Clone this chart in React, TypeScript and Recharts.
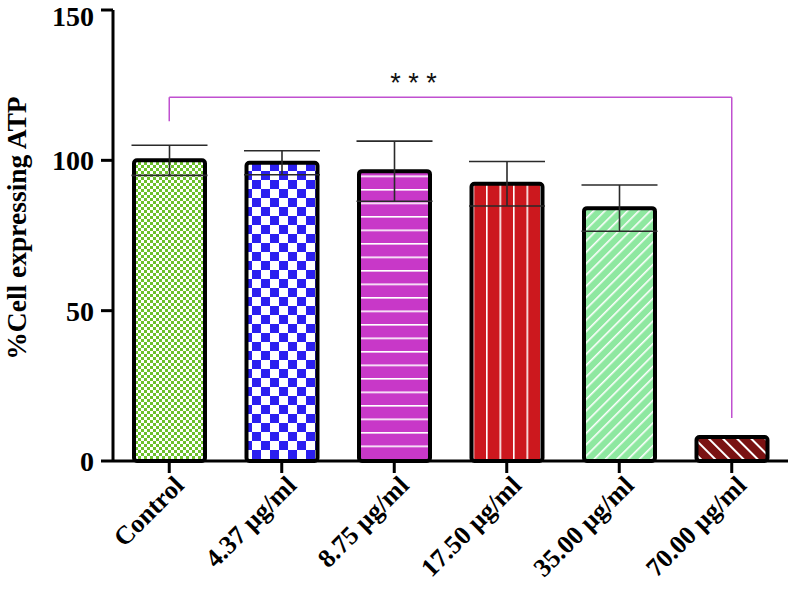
import { Bar, BarChart, Cell, ErrorBar, ReferenceLine, XAxis, YAxis } from 'recharts';

const groups = ['Control', '4.37 µg/ml', '8.75 µg/ml', '17.50 µg/ml', '35.00 µg/ml', '70.00 µg/ml'];
const meanAtp = [100, 99.2, 96.4, 92.2, 84.1, 8];
const sdAtp = [5, 4, 10, 7.4, 7.7, 0];
const yTicks = [0, 50, 100, 150];
const fills = ['url(#pCtrl)', 'url(#p437)', 'url(#p875)', 'url(#p1750)', 'url(#p3500)', 'url(#p7000)'];

const data = groups.map((name, i) => ({ name, atp: meanAtp[i], sd: sdAtp[i] }));

const serif = '"Liberation Serif", "Times New Roman", serif';

function XTick({ x, y, payload }: any) {
  return (
    <g transform={`translate(${x + 16},${y + 12})`}>
      <text
        x={0}
        y={0}
        textAnchor="end"
        transform="rotate(-45)"
        fontFamily={serif}
        fontWeight="bold"
        fontSize={26}
        fill="#000"
      >
        {payload.value}
      </text>
    </g>
  );
}

function YLabel() {
  return (
    <text
      x={26}
      y={228}
      transform="rotate(-90 26 228)"
      textAnchor="middle"
      fontFamily={serif}
      fontWeight="bold"
      fontSize={27.5}
      fill="#000"
    >
      %Cell expressing ATP
    </text>
  );
}

export default function App() {
  return (
    <div style={{ position: 'absolute', left: 0, top: 0, background: '#fff' }}>
      <BarChart width={792} height={594} data={data} margin={{ top: 10, right: 4, left: 0, bottom: 0 }}>
        <defs>
          <pattern id="pCtrl" width={6} height={6} patternUnits="userSpaceOnUse">
            <rect width={6} height={6} fill="#fff" />
            <rect width={3} height={3} fill="#6cc02c" />
            <rect x={3} y={3} width={3} height={3} fill="#6cc02c" />
          </pattern>
          <pattern id="p437" width={18} height={18} patternUnits="userSpaceOnUse">
            <rect width={18} height={18} fill="#fff" />
            <rect width={9} height={9} fill="#2b1ff0" />
            <rect x={9} y={9} width={9} height={9} fill="#2b1ff0" />
          </pattern>
          <pattern id="p875" width={14} height={13.5} patternUnits="userSpaceOnUse">
            <rect width={14} height={13.5} fill="#c838c8" />
            <rect y={0} width={14} height={1.6} fill="#fff" />
          </pattern>
          <pattern id="p1750" width={13.5} height={14} patternUnits="userSpaceOnUse">
            <rect width={13.5} height={14} fill="#cc181e" />
            <rect x={0} width={1.6} height={14} fill="#fff" />
          </pattern>
          <pattern id="p3500" width={8} height={8} patternUnits="userSpaceOnUse" patternTransform="rotate(45)">
            <rect width={8} height={8} fill="#8ee8a0" />
            <rect width={1.6} height={8} fill="#fff" />
          </pattern>
          <pattern id="p7000" width={10} height={10} patternUnits="userSpaceOnUse" patternTransform="rotate(-45)">
            <rect width={10} height={10} fill="#7a1212" />
            <rect width={2} height={10} fill="#fff" />
          </pattern>
        </defs>
        <XAxis
          dataKey="name"
          interval={0}
          height={133}
          axisLine={{ stroke: '#000', strokeWidth: 3 }}
          tickLine={{ stroke: '#000', strokeWidth: 3 }}
          tickSize={12}
          tick={<XTick />}
        />
        <YAxis
          domain={[0, 150]}
          ticks={yTicks}
          width={113}
          axisLine={{ stroke: '#000', strokeWidth: 3 }}
          tickLine={{ stroke: '#000', strokeWidth: 3 }}
          tickSize={12}
          tickMargin={7}
          tick={{ fill: '#000', fontFamily: serif, fontWeight: 'bold', fontSize: 28 }}
          label={{ content: <YLabel /> }}
        />
        <Bar dataKey="atp" barSize={71} stroke="#000" strokeWidth={4} radius={3} isAnimationActive={false}>
          {data.map((d, i) => (
            <Cell key={d.name} fill={fills[i]} />
          ))}
          <ErrorBar dataKey="sd" width={38} stroke="#2a2a2a" strokeWidth={1.6} direction="y" />
        </Bar>
        <ReferenceLine
          segment={[
            { x: groups[0], y: 121 },
            { x: groups[5], y: 121 },
          ]}
          stroke="#c050d0"
          strokeWidth={1.5}
          label={{
            value: '* * *',
            position: 'top',
            dx: -37,
            offset: 5,
            fill: '#111',
            fontSize: 27,
            fontFamily: '"Liberation Sans", Arial, sans-serif',
          }}
        />
        <ReferenceLine
          segment={[
            { x: groups[0], y: 121 },
            { x: groups[0], y: 113 },
          ]}
          stroke="#c050d0"
          strokeWidth={1.5}
        />
        <ReferenceLine
          segment={[
            { x: groups[5], y: 121 },
            { x: groups[5], y: 14.3 },
          ]}
          stroke="#c050d0"
          strokeWidth={1.5}
        />
      </BarChart>
    </div>
  );
}
